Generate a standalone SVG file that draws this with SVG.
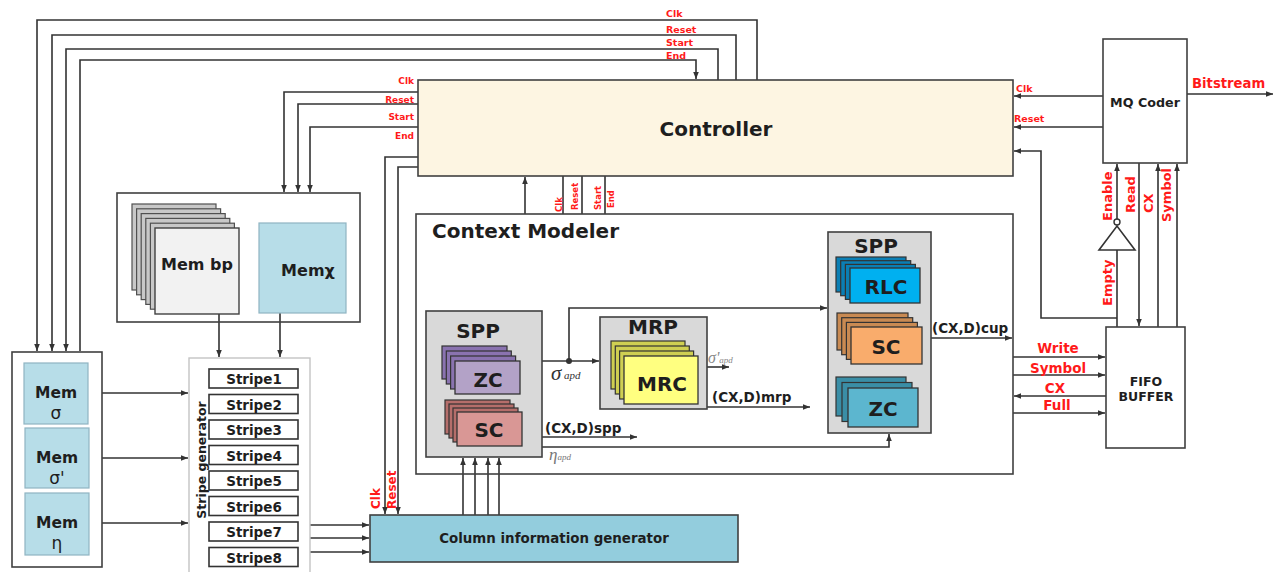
<svg xmlns="http://www.w3.org/2000/svg" width="1278" height="572" viewBox="0 0 1278 572">
<defs>
<marker id="ah" viewBox="0 0 10 10" refX="10" refY="5" markerWidth="7" markerHeight="7" markerUnits="userSpaceOnUse" orient="auto-start-reverse"><path d="M0,1 L10,5 L0,9 z" fill="#333"/></marker>
</defs>
<style>
.w{fill:none;stroke:#333;stroke-width:1.6}
.a{marker-end:url(#ah)}
.b{font-family:"DejaVu Sans",Verdana,sans-serif;font-weight:bold;fill:#1e1e1e}
.r{font-family:"DejaVu Sans",Verdana,sans-serif;font-weight:bold;fill:#ff1a1a}
.m{text-anchor:middle}
.e{text-anchor:end}
.box{stroke:#404040;stroke-width:1.6}
.gray{fill:#d9d9d9;stroke:#404040;stroke-width:1.6}
.blue{fill:#b7dde8;stroke:#8fb4c2;stroke-width:1.2}
.g{font-family:"Liberation Serif","Times New Roman",serif;font-style:italic}
.sym{font-family:"DejaVu Sans",sans-serif;fill:#1e1e1e;text-anchor:middle}
</style>
<rect width="1278" height="572" fill="#fff"/>

<g id="connectors">
<path class="w a" d="M757,80 V20 H37 V351"/>
<path class="w a" d="M736,80 V35 H52 V351"/>
<path class="w a" d="M718,80 V49 H66 V351"/>
<path class="w a" d="M80,351 V60 H696 V79"/>
<path class="w a" d="M418,92 H284 V192"/>
<path class="w a" d="M418,104 H298 V192"/>
<path class="w a" d="M418,127 H310 V192"/>
<path class="w a" d="M418,157 H385 V514"/>
<path class="w a" d="M418,167 H398 V514"/>
<path class="w a" d="M525,214 V177"/>
<path class="w" d="M563,176 V214 M582,176 V214 M605,176 V214"/>
<path class="w a" d="M1103,96 H1014"/>
<path class="w a" d="M1103,127 H1014"/>
<path class="w a" d="M1117,318 H1041 V151 H1014"/>
<path class="w a" d="M1187,94 H1273"/>
<path class="w" d="M1117,327 V250"/>
<polygon points="1099,250 1135,250 1117,226" fill="#fff" stroke="#333" stroke-width="1.6"/>
<circle cx="1117" cy="222" r="3" fill="#fff" stroke="#333" stroke-width="1.4"/>
<path class="w a" d="M1117,219 V164"/>
<path class="w a" d="M1139,163 V326"/>
<path class="w a" d="M1158,327 V164"/>
<path class="w a" d="M1177,327 V164"/>
<path class="w a" d="M1013,357 H1105"/>
<path class="w a" d="M1013,375 H1105"/>
<path class="w a" d="M1106,396 H1014"/>
<path class="w a" d="M1013,413 H1105"/>
<path class="w a" d="M931,338 H1012"/>
<path class="w a" d="M542,361 H599"/>
<circle cx="569" cy="361" r="3" fill="#333"/>
<path class="w a" d="M569,361 V308 H827"/>
<path class="w a" d="M707,367 H729"/>
<path class="w a" d="M707,407 H810"/>
<path class="w a" d="M542,437 H637"/>
<path class="w a" d="M542,447 H889 V434"/>
<path class="w a" d="M463,515 V458"/>
<path class="w a" d="M475,515 V458"/>
<path class="w a" d="M488,515 V458"/>
<path class="w a" d="M499,515 V458"/>
<path class="w a" d="M219,314 V357"/>
<path class="w a" d="M280,313 V357"/>
<path class="w a" d="M88,393 H188"/>
<path class="w a" d="M89,458 H188"/>
<path class="w a" d="M89,523 H188"/>
<path class="w a" d="M310,525 H369"/>
<path class="w a" d="M310,538 H369"/>
<path class="w a" d="M310,552 H369"/>
</g>

<g id="signal-labels" font-size="9.5">
<text class="r" x="666" y="17">Clk</text>
<text class="r" x="666" y="33">Reset</text>
<text class="r" x="666" y="46">Start</text>
<text class="r" x="666" y="59">End</text>
<text class="r e" x="414" y="84" font-size="9">Clk</text>
<text class="r e" x="414" y="103" font-size="9">Reset</text>
<text class="r e" x="414" y="120" font-size="9">Start</text>
<text class="r e" x="414" y="139" font-size="9">End</text>
<text class="r" x="1016" y="92">Clk</text>
<text class="r" x="1014" y="122">Reset</text>
<text class="r" font-size="8.5" transform="translate(562,212) rotate(-90)">Clk</text>
<text class="r" font-size="8.5" transform="translate(578,210) rotate(-90)">Reset</text>
<text class="r" font-size="8.5" transform="translate(601,210) rotate(-90)">Start</text>
<text class="r" font-size="8.5" transform="translate(614,208) rotate(-90)">End</text>
<text class="r" font-size="12" transform="translate(380,509) rotate(-90)">Clk</text>
<text class="r" font-size="12" transform="translate(396,509) rotate(-90)">Reset</text>
<text class="r" font-size="13" transform="translate(1112,221) rotate(-90)">Enable</text>
<text class="r" font-size="13" transform="translate(1135,213) rotate(-90)">Read</text>
<text class="r" font-size="13" transform="translate(1153,213) rotate(-90)">CX</text>
<text class="r" font-size="13" transform="translate(1171,222) rotate(-90)">Symbol</text>
<text class="r" font-size="13" transform="translate(1112,306) rotate(-90)">Empty</text>
<text class="r m" x="1058" y="353" font-size="13.5">Write</text>
<text class="r m" x="1058" y="373" font-size="13.5">Symbol</text>
<text class="r m" x="1055" y="393" font-size="13.5">CX</text>
<text class="r m" x="1057" y="410" font-size="13.5">Full</text>
<text class="r" x="1192" y="88" font-size="13.2">Bitstream</text>
<text class="b" x="932" y="333" font-size="13.5">(CX,D)cup</text>
<text class="b" x="712" y="402" font-size="13.5">(CX,D)mrp</text>
<text class="b" x="545" y="433" font-size="13.5">(CX,D)spp</text>
<text class="g" x="551" y="380" fill="#333"><tspan font-size="21">σ</tspan><tspan font-size="11" dy="-1"> apd</tspan></text>
<text class="g" x="708" y="363" fill="#888"><tspan font-size="16">σ'</tspan><tspan font-size="9">apd</tspan></text>
<text class="g" x="549" y="460" fill="#777"><tspan font-size="17">η</tspan><tspan font-size="9">apd</tspan></text>
</g>

<g id="controller">
<rect x="418" y="80" width="595" height="96" fill="#fdf5e2" class="box"/>
<text class="b m" x="716" y="136" font-size="20">Controller</text>
</g>

<g id="mq-coder">
<rect x="1103" y="39" width="84" height="124" fill="#fff" class="box"/>
<text class="b m" x="1145" y="107" font-size="12.7">MQ Coder</text>
</g>

<g id="fifo-buffer">
<rect x="1106" y="327" width="79" height="121" fill="#fff" class="box"/>
<text class="b m" x="1146" y="386" font-size="12.5" fill="#333">FIFO</text>
<text class="b m" x="1146" y="401" font-size="12.5" fill="#333">BUFFER</text>
</g>

<g id="memory-block">
<rect x="117" y="193" width="243" height="129" fill="none" class="box"/>
<g fill="#c8c8c8" stroke="#505050" stroke-width="1.2">
<rect x="132" y="204" width="84" height="86"/>
<rect x="136.6" y="208.8" width="84" height="86"/>
<rect x="141.2" y="213.6" width="84" height="86"/>
<rect x="145.8" y="218.4" width="84" height="86"/>
<rect x="150.4" y="223.2" width="84" height="86"/>
</g>
<rect x="155" y="228" width="84" height="86" fill="#f2f2f2" stroke="#404040" stroke-width="1.4"/>
<text class="b m" x="197" y="270" font-size="16">Mem bp</text>
<rect x="259" y="223" width="87" height="90" class="blue"/>
<text class="b m" x="308" y="276" font-size="16">Memχ</text>
</g>

<g id="mem-left">
<rect x="12" y="352" width="90" height="215" fill="#fff" class="box"/>
<rect x="24" y="363" width="64" height="61" class="blue"/>
<text class="b m" x="56" y="398" font-size="15.5">Mem</text>
<text class="sym" x="56" y="419" font-size="17">σ</text>
<rect x="25" y="428" width="64" height="60" class="blue"/>
<text class="b m" x="57" y="463" font-size="15.5">Mem</text>
<text class="sym" x="57" y="484" font-size="17">σ'</text>
<rect x="25" y="493" width="64" height="62" class="blue"/>
<text class="b m" x="57" y="528" font-size="15.5">Mem</text>
<text class="sym" x="57" y="549" font-size="17">η</text>
</g>

<g id="stripe-generator">
<rect x="189" y="358" width="121" height="222" fill="#fff" stroke="#c4c4c4" stroke-width="1.4"/>
<text class="b m" font-size="12.5" transform="translate(206,460) rotate(-90)">Stripe generator</text>
<g fill="#fff" stroke="#333" stroke-width="1.6">
<rect x="209" y="369" width="89" height="19"/>
<rect x="209" y="394.5" width="89" height="19"/>
<rect x="209" y="420" width="89" height="19"/>
<rect x="209" y="445.5" width="89" height="19"/>
<rect x="209" y="471" width="89" height="19"/>
<rect x="209" y="496.5" width="89" height="19"/>
<rect x="209" y="522" width="89" height="19"/>
<rect x="209" y="547.5" width="89" height="19"/>
</g>
<g class="b m" font-size="13.5" fill="#333">
<text x="254" y="384">Stripe1</text>
<text x="254" y="409.5">Stripe2</text>
<text x="254" y="435">Stripe3</text>
<text x="254" y="460.5">Stripe4</text>
<text x="254" y="486">Stripe5</text>
<text x="254" y="511.5">Stripe6</text>
<text x="254" y="537">Stripe7</text>
<text x="254" y="562.5">Stripe8</text>
</g>
</g>

<g id="column-information-generator">
<rect x="370" y="515" width="368" height="47" fill="#93cddd" class="box"/>
<text class="b m" x="554" y="543" font-size="13.4" fill="#222">Column information generator</text>
</g>

<g id="context-modeler">
<rect x="416" y="214" width="597" height="260" fill="none" class="box"/>
<text class="b" x="432" y="238" font-size="20">Context Modeler</text>
</g>

<g id="spp-left">
<rect x="426" y="311" width="116" height="146" class="gray"/>
<text class="b m" x="478" y="338" font-size="20">SPP</text>
<g fill="#8a73b0" stroke="#333" stroke-width="1.2">
<rect x="442" y="346" width="65" height="33"/>
<rect x="446.3" y="351" width="65" height="33"/>
<rect x="450.6" y="356" width="65" height="33"/>
</g>
<rect x="455" y="361" width="65" height="33" fill="#b3a2c7" stroke="#333" stroke-width="1.3"/>
<text class="b m" x="488" y="387" font-size="20">ZC</text>
<g fill="#b56e6b" stroke="#333" stroke-width="1.2">
<rect x="445" y="400" width="65" height="34"/>
<rect x="449" y="404" width="65" height="34"/>
<rect x="453" y="408" width="65" height="34"/>
</g>
<rect x="457" y="412" width="65" height="34" fill="#d99795" stroke="#333" stroke-width="1.3"/>
<text class="b m" x="489" y="437" font-size="20">SC</text>
</g>

<g id="mrp">
<rect x="600" y="317" width="107" height="92" class="gray"/>
<text class="b m" x="653" y="334" font-size="20">MRP</text>
<g fill="#cfcf52" stroke="#333" stroke-width="1.2">
<rect x="611" y="341" width="74" height="48"/>
<rect x="615.3" y="346" width="74" height="48"/>
<rect x="619.6" y="351" width="74" height="48"/>
</g>
<rect x="624" y="356" width="74" height="48" fill="#ffff80" stroke="#333" stroke-width="1.3"/>
<text class="b m" x="662" y="391" font-size="20">MRC</text>
</g>

<g id="spp-right">
<rect x="828" y="232" width="103" height="201" class="gray"/>
<text class="b m" x="876" y="253" font-size="20">SPP</text>
<g fill="#0a7fb5" stroke="#333" stroke-width="1.2">
<rect x="836" y="257" width="70" height="35"/>
<rect x="840.7" y="260.7" width="70" height="35"/>
<rect x="845.4" y="264.4" width="70" height="35"/>
</g>
<rect x="850" y="268" width="70" height="35" fill="#00b0f0" stroke="#333" stroke-width="1.3"/>
<text class="b m" x="886" y="294" font-size="20">RLC</text>
<g fill="#c98a52" stroke="#333" stroke-width="1.2">
<rect x="837" y="313" width="71" height="37"/>
<rect x="841.7" y="317.7" width="71" height="37"/>
<rect x="846.4" y="322.4" width="71" height="37"/>
</g>
<rect x="851" y="327" width="71" height="37" fill="#f9ac6c" stroke="#333" stroke-width="1.3"/>
<text class="b m" x="886" y="354" font-size="20">SC</text>
<g fill="#3a8ea6" stroke="#333" stroke-width="1.2">
<rect x="836" y="377" width="70" height="39"/>
<rect x="842" y="382.5" width="70" height="39"/>
</g>
<rect x="848" y="388" width="70" height="39" fill="#5cb6cf" stroke="#333" stroke-width="1.3"/>
<text class="b m" x="883" y="416" font-size="20">ZC</text>
</g>
</svg>
